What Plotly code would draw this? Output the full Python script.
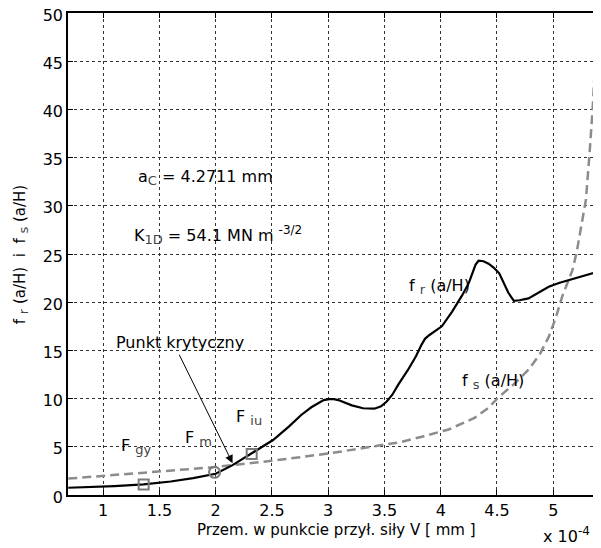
import plotly.graph_objects as go

# x values in units of 1e-4 mm
fr_x = [0.69, 0.9, 1.1, 1.36, 1.6, 1.8, 2.0, 2.15, 2.22, 2.32, 2.42, 2.51, 2.65, 2.76, 2.85, 2.91,
        2.96, 3.01, 3.05, 3.09, 3.15, 3.21, 3.31, 3.41, 3.47, 3.52, 3.57, 3.62, 3.71, 3.78, 3.83,
        3.86, 3.9, 3.95, 4.01, 4.1, 4.19, 4.25, 4.29, 4.31, 4.336, 4.38, 4.425, 4.47, 4.52, 4.56,
        4.6, 4.65, 4.7, 4.78, 4.87, 4.96, 5.05, 5.14, 5.3, 5.45]
fr_y = [0.75, 0.82, 0.93, 1.1, 1.4, 1.75, 2.2, 3.1, 3.6, 4.3, 5.0, 5.7, 7.1, 8.3, 9.1, 9.55,
        9.85, 9.95, 9.95, 9.85, 9.6, 9.3, 9.0, 8.95, 9.2, 9.7, 10.4, 11.4, 13.0, 14.4, 15.6,
        16.2, 16.6, 17.0, 17.5, 19.0, 20.7, 22.0, 23.2, 23.9, 24.3, 24.25, 24.0, 23.6, 23.0, 22.0,
        21.0, 20.15, 20.2, 20.4, 21.0, 21.6, 22.0, 22.3, 22.8, 23.35]

fs_x = [0.69, 1.0, 1.5, 2.0, 2.22, 2.5, 3.0, 3.5, 3.65, 3.85, 4.07, 4.3, 4.42, 4.52, 4.65, 4.78,
        4.88, 4.96, 5.02, 5.08, 5.13, 5.17, 5.21, 5.245, 5.29, 5.32, 5.35, 5.37, 5.39, 5.41]
fs_y = [1.7, 2.0, 2.45, 2.9, 3.2, 3.55, 4.3, 5.2, 5.5, 6.1, 6.8, 8.0, 9.0, 10.2, 11.5, 13.0,
        14.6, 16.4, 18.3, 20.6, 22.0, 23.3, 25.3, 27.8, 30.6, 35.0, 40.0, 44.5, 49.3, 53.0]

sq_x = [1.36, 2.32]
sq_y = [1.1, 4.25]
circ_x = [1.99]
circ_y = [2.35]

x_ticks = [1, 1.5, 2, 2.5, 3, 3.5, 4, 4.5, 5]
x_tick_labels = ["1", "1.5", "2", "2.5", "3", "3.5", "4", "4.5", "5"]
y_ticks = [0, 5, 10, 15, 20, 25, 30, 35, 40, 45, 50]

FONT = "DejaVu Sans, Liberation Sans, Arial, sans-serif"
GRAY = "#8c8c8c"


def sub(t):
    return '<sub><span style="font-size:13px;color:#444">' + t + '</span></sub>'


def sup(t):
    return '<sup><span style="font-size:12px">' + t + '</span></sup>'


fig = go.Figure()
fig.add_trace(go.Scatter(x=fs_x, y=fs_y, mode="lines",
                         line=dict(color=GRAY, width=2.5, dash="9px,5px"),
                         showlegend=False, hoverinfo="skip"))
fig.add_trace(go.Scatter(x=fr_x, y=fr_y, mode="lines",
                         line=dict(color="black", width=2.2),
                         showlegend=False, hoverinfo="skip"))
fig.add_trace(go.Scatter(x=sq_x, y=sq_y, mode="markers",
                         marker=dict(symbol="square-open", size=10, color="#7a7a7a", line=dict(width=2)),
                         showlegend=False, hoverinfo="skip"))
fig.add_trace(go.Scatter(x=circ_x, y=circ_y, mode="markers",
                         marker=dict(symbol="circle-open", size=11, color="#7a7a7a", line=dict(width=2)),
                         showlegend=False, hoverinfo="skip"))

ann_font = dict(family=FONT, size=16, color="black")
annotations = [
    dict(x=1.29, y=32.9, text="a" + sub("C") + " = 4.2711 mm"),
    dict(x=1.26, y=27.0, text="K" + sub("1D") + " = 54.1 MN m " + sup("-3/2")),
    dict(x=1.14, y=5.0, text="F " + sub("gy")),
    dict(x=1.71, y=5.9, text="F " + sub("m")),
    dict(x=2.16, y=8.0, text="F " + sub("iu")),
    dict(x=3.70, y=21.6, text="f " + sub("r") + " (a/H)"),
    dict(x=4.17, y=11.8, text="f " + sub("s") + " (a/H)"),
    dict(x=1.10, y=15.8, text="Punkt krytyczny"),
]
anns = []
for a in annotations:
    anns.append(dict(xref="x", yref="y", xanchor="left", yanchor="middle",
                     showarrow=False, font=ann_font, **a))
anns.append(dict(xref="x", yref="y", x=2.15, y=3.3, ax=1.67, ay=14.7, axref="x", ayref="y",
                 text="", showarrow=True, arrowhead=2, arrowsize=1.6, arrowwidth=1, arrowcolor="black"))
anns.append(dict(xref="paper", yref="paper", x=0.976, y=-0.083, xanchor="right", yanchor="middle",
                 text="x 10" + sup("-4"), showarrow=False, font=dict(family=FONT, size=16, color="black")))
# axis titles
anns.append(dict(xref="paper", yref="paper", x=0.5, y=-0.0726, xanchor="center", yanchor="middle",
                 text="Przem. w punkcie przył. siły V [ mm ]", showarrow=False,
                 font=dict(family=FONT, size=15, color="black")))
anns.append(dict(xref="paper", yref="paper", x=-0.087, y=0.5, xanchor="center", yanchor="middle",
                 textangle=-90, text="f " + sub("r") + " (a/H)  i  f " + sub("s") + " (a/H)", showarrow=False,
                 font=dict(family=FONT, size=15, color="black")))

# the page body has an 8px default margin; margins compensate so the plot area
# lands at window pixels x 68..601, y 13..495
fig.update_layout(
    width=601, height=548,
    margin=dict(l=60, r=4, t=5, b=61, autoexpand=False),
    paper_bgcolor="white", plot_bgcolor="white",
    font=dict(family=FONT, size=16, color="black"),
    annotations=anns,
)
fig.update_xaxes(range=[0.6875, 5.46], tickvals=x_ticks, ticktext=x_tick_labels,
                 showline=True, linecolor="black", linewidth=1.5, mirror="ticks",
                 ticks="inside", ticklen=5, tickcolor="black", automargin=False,
                 ticklabeloverflow="allow",
                 showgrid=True, gridcolor="#333", griddash="dot", gridwidth=1,
                 zeroline=False, tickfont=dict(size=16))
fig.update_yaxes(range=[0, 50], tickvals=y_ticks,
                 showline=True, linecolor="black", linewidth=1.5, mirror="ticks",
                 ticks="inside", ticklen=5, tickcolor="black", automargin=False,
                 ticklabeloverflow="allow", ticklabelshift=2,
                 showgrid=True, gridcolor="#333", griddash="dot", gridwidth=1,
                 zeroline=False, tickfont=dict(size=16))

fig.write_html("out.html")
